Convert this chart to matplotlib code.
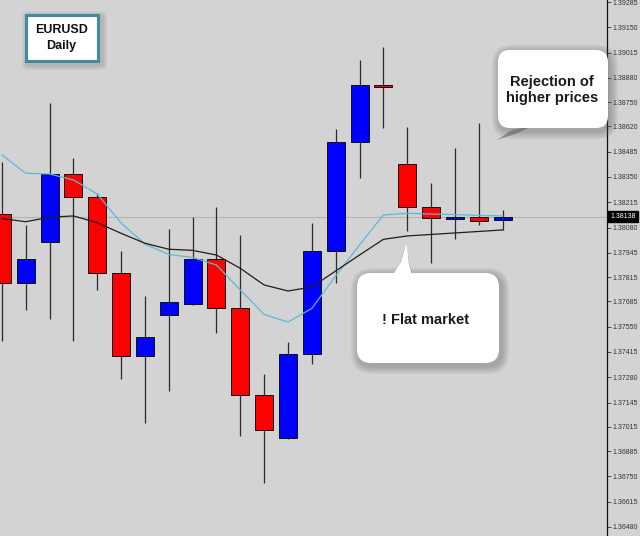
import matplotlib
matplotlib.use('Agg')
import matplotlib.pyplot as plt
from matplotlib.patches import FancyBboxPatch, Polygon
import matplotlib.transforms as mtransforms

# ---------------- data ----------------
opens  = [1.38152, 1.37782, 1.38001, 1.38364, 1.38245, 1.37835, 1.37394, 1.37611,
          1.37671, 1.37910, 1.37652, 1.37184, 1.36954, 1.37403, 1.37955, 1.38535,
          1.38840, 1.38419, 1.38191, 1.38124, 1.38138, 1.38120]
highs  = [1.38432, 1.38094, 1.38747, 1.38453, 1.38263, 1.37956, 1.37716, 1.38071,
          1.38138, 1.38191, 1.38040, 1.37296, 1.37470, 1.38103, 1.38608, 1.38975,
          1.39046, 1.38616, 1.38316, 1.38503, 1.38637, 1.38174]
lows   = [1.37475, 1.37639, 1.37590, 1.37474, 1.37746, 1.37269, 1.37034, 1.37208,
          1.37664, 1.37515, 1.36968, 1.36713, 1.36948, 1.37351, 1.37782, 1.38343,
          1.38613, 1.38063, 1.37888, 1.38017, 1.38094, 1.38067]
closes = [1.37785, 1.37910, 1.38364, 1.38245, 1.37835, 1.37395, 1.37497, 1.37681,
          1.37912, 1.37652, 1.37184, 1.36998, 1.37403, 1.37955, 1.38535, 1.38842,
          1.38829, 1.38191, 1.38129, 1.38138, 1.38117, 1.38138]
ma_fast = [1.38468, 1.38370, 1.38366, 1.38334, 1.38259, 1.38104, 1.37992, 1.37936,
           1.37920, 1.37880, 1.37746, 1.37616, 1.37575, 1.37648, 1.37821, 1.37987,
           1.38147, 1.38156, 1.38152, 1.38149, 1.38145, 1.38142]
ma_slow = [1.38128, 1.38111, 1.38135, 1.38142, 1.38106, 1.38049, 1.37996, 1.37964,
           1.37958, 1.37933, 1.37862, 1.37773, 1.37741, 1.37762, 1.37848, 1.37933,
           1.38017, 1.38035, 1.38043, 1.38051, 1.38059, 1.38067]
price_ticks = [1.39285, 1.39150, 1.39015, 1.38880, 1.38750, 1.38620, 1.38485, 1.38350,
               1.38215, 1.38080, 1.37945, 1.37815, 1.37685, 1.37550, 1.37415, 1.37280,
               1.37145, 1.37015, 1.36885, 1.36750, 1.36615, 1.36480]
bid_price = 1.38138
symbol_label = "EURUSD\nDaily"
note_top = "Rejection of\nhigher prices"
note_bottom = "! Flat market"

BG = '#d3d3d3'
BULL = '#0000ff'
BEAR = '#ff0000'

fig = plt.figure(figsize=(6.4, 5.36), dpi=100, facecolor=BG)
ax = fig.add_axes([0, 0, 607 / 640, 1])
ax.set_facecolor(BG)

xs = list(range(len(opens)))
ax.set_xlim(-0.08, 25.38)
ax.set_ylim(1.364318, 1.392957)

# bid line
ax.axhline(bid_price, color='#b4b4b4', lw=0.8, zorder=0.5)

# wicks
ax.vlines(xs, lows, highs, color='#2a2a2a', lw=0.9, zorder=1)
# bodies
for x, o, c in zip(xs, opens, closes):
    col = BULL if c >= o else BEAR
    ax.bar(x, abs(c - o), bottom=min(o, c), width=0.755, color=col,
           edgecolor='#111111', linewidth=0.7, zorder=2)

# moving averages
ax.plot(xs, ma_fast, color='#5ab9d8', lw=0.9, zorder=3)
ax.plot(xs, ma_slow, color='#1e1e1e', lw=0.9, zorder=3)

# axes styling
for s in ['top', 'left', 'bottom']:
    ax.spines[s].set_visible(False)
ax.spines['right'].set_color('#111111')
ax.spines['right'].set_linewidth(0.9)
ax.set_xticks([])
ax.yaxis.tick_right()
ax.set_yticks(price_ticks)
ax.set_yticklabels([f"{p:.5f}" for p in price_ticks])
ax.tick_params(axis='y', direction='out', length=3, width=0.6, pad=1.2,
               labelsize=5.0, colors='#333333')
for lab in ax.get_yticklabels():
    lab.set_family(['Liberation Sans', 'DejaVu Sans'])

# bid label box
trans = mtransforms.blended_transform_factory(ax.transAxes, ax.transData)
ax.text(1.005, bid_price, f"{bid_price:.5f}", transform=trans, ha='left', va='center',
        fontsize=5.0, color='white', family=['Liberation Sans', 'DejaVu Sans'],
        bbox=dict(boxstyle='square,pad=0.3', fc='black', ec='black'), zorder=20,
        clip_on=False)

# ---------------- overlay for annotations (pixel coordinates) ----------------
ov = fig.add_axes([0, 0, 1, 1], zorder=10)
ov.set_xlim(0, 640)
ov.set_ylim(536, 0)
ov.axis('off')
ov.patch.set_alpha(0)


def shadow(x0, y0, w, h, r, dx=2, dy=3, layers=5):
    for k in range(layers, 0, -1):
        e = k * 1.6
        ov.add_patch(FancyBboxPatch((x0 - e + dx, y0 - e + dy), w + 2 * e, h + 2 * e,
                                    boxstyle=f"round,pad=0,rounding_size={r + e}",
                                    fc='#505050', ec='none', alpha=0.08))


# EURUSD Daily box
shadow(24, 13, 75, 49, 1, dx=3, dy=3, layers=3)
ov.add_patch(FancyBboxPatch((25.5, 14.5), 72, 46, boxstyle="square,pad=0",
                            fc='white', ec='#3e8c9c', lw=2.2))
ov.text(61.5, 38, symbol_label, ha='center', va='center', fontsize=9,
        fontweight='bold', linespacing=1.35, color='#111111',
        family=['Liberation Sans', 'DejaVu Sans'])

# Rejection bubble
ov.add_patch(Polygon([(497, 140), (512, 130), (532, 126), (518, 133)], closed=True,
                     fc='#8c8c8c', ec='none', alpha=0.9))
shadow(498, 50, 110, 78, 12)
ov.add_patch(FancyBboxPatch((498, 50), 110, 78, boxstyle="round,pad=0,rounding_size=12",
                            fc='white', ec='none'))
ov.text(552, 90, note_top, ha='center', va='center', fontsize=10.5, fontweight='bold',
        linespacing=1.2, color='#1a1a1a',
        family=['Liberation Sans', 'DejaVu Sans'])

# Flat market bubble
shadow(357, 273, 142, 90, 14)
ov.add_patch(Polygon([(389, 279), (400, 263), (405, 247), (407, 243), (409, 262),
                      (414, 279)], closed=True, fc='#9a9a9a', ec='none', alpha=0.6))
ov.add_patch(FancyBboxPatch((357, 273), 142, 90, boxstyle="round,pad=0,rounding_size=14",
                            fc='white', ec='none'))
ov.add_patch(Polygon([(392, 276), (401, 262), (405.5, 246), (407, 244), (408.5, 262),
                      (412, 276)], closed=True, fc='white', ec='none'))
ov.text(426, 320, note_bottom, ha='center', va='center', fontsize=10.5, fontweight='bold',
        color='#1a1a1a', family=['Liberation Sans', 'DejaVu Sans'])

fig.savefig('out.png', dpi=100, facecolor=BG)
